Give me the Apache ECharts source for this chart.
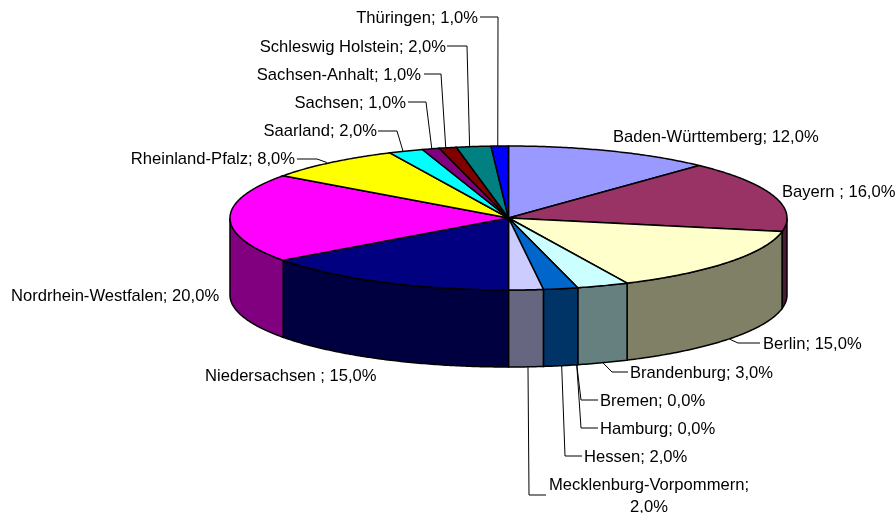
<!DOCTYPE html>
<html>
<head>
<meta charset="utf-8">
<style>
  html, body { margin: 0; padding: 0; background: #fff; }
  #chart { width: 895px; height: 513px; }
</style>
<script src="https://cdn.jsdelivr.net/npm/echarts@6/dist/echarts.min.js"></script>
</head>
<body>
<div id="chart"></div>
<script>
const states = ["Baden-Württemberg", "Bayern ", "Berlin", "Brandenburg", "Bremen", "Hamburg", "Hessen",
  "Mecklenburg-Vorpommern", "Niedersachsen ", "Nordrhein-Westfalen", "Rheinland-Pfalz", "Saarland",
  "Sachsen", "Sachsen-Anhalt", "Schleswig Holstein", "Thüringen"];
const shares = [12, 16, 15, 3, 0, 0, 2, 2, 15, 20, 8, 2, 1, 1, 2, 1];
const topColors = ["#9999ff", "#993366", "#ffffcc", "#ccffff", "#660066", "#ff8080", "#0066cc", "#ccccff",
  "#000080", "#ff00ff", "#ffff00", "#00ffff", "#800080", "#800000", "#008080", "#0000ff"];
const sideColors = ["#4d4d80", "#4d1933", "#808066", "#668080", "#330033", "#804040", "#003366", "#666680",
  "#000040", "#800080", "#808000", "#008080", "#400040", "#400000", "#004040", "#000080"];

// label anchor: [x, y, align]
const labelAnchors = [[613, 137, "left"], [782, 192, "left"], [763, 344, "left"], [630, 373, "left"],
  [600, 401, "left"], [600, 429, "left"], [584, 457, "left"], [649, 496, "center"], [205, 376, "left"],
  [11, 296, "left"], [295, 159, "right"], [377, 131, "right"], [406, 103, "right"], [421, 75, "right"],
  [446, 47, "right"], [478, 18, "right"]];
// leader lines: bend points, then the end on the pie rim nudged sideways
const leaderBends = [null, null, [[760, 343], [738, 343]], [[628, 372], [612, 372]], [[598, 400], [581, 400]],
  [[598, 428], [581, 428]], [[582, 456], [565, 456]], [[546, 495], [529, 495]], null, null,
  [[297, 159], [317, 159]], [[378, 131], [397, 131]], [[408, 102], [426, 102]], [[424, 74], [441, 74]],
  [[447, 46], [467, 46]], [[480, 17], [498, 17]]];
const leaderNudge = [0, 0, 1, 0, -1, -1, 1, 2, 0, 0, -4, -3, 1, -2, -4, -2];

const cx = 508.5, cy = 218, rx = 278.5, ry = 72, depth = 77;
const total = shares.reduce((a, b) => a + b, 0);
const starts = [];
shares.reduce((acc, v, i) => { starts[i] = acc; return acc + v; }, 0);

function toAngle(share) { return share / total * 2 * Math.PI; }
function rimPoint(a, drop) {
  return [cx + rx * Math.sin(a), cy - ry * Math.cos(a) + (drop || 0)];
}
function arcPoints(a0, a1, drop) {
  const n = Math.max(2, Math.ceil((a1 - a0) / 0.01));
  const pts = [];
  for (let i = 0; i <= n; i++) pts.push(rimPoint(a0 + (a1 - a0) * i / n, drop));
  return pts;
}

function renderSide(params, api) {
  const i = params.dataIndex;
  const a0 = Math.max(toAngle(starts[i]), Math.PI / 2);
  const a1 = Math.min(toAngle(starts[i] + shares[i]), Math.PI * 1.5);
  if (shares[i] === 0 || a1 <= a0) return null;
  const points = arcPoints(a0, a1, 0).concat(arcPoints(a0, a1, depth).reverse());
  return { type: "polygon", silent: true, shape: { points },
    style: { fill: sideColors[i], stroke: "#000", lineWidth: 1.5 } };
}

function renderTop(params, api) {
  const i = params.dataIndex;
  if (shares[i] === 0) return null;
  const points = [[cx, cy]].concat(arcPoints(toAngle(starts[i]), toAngle(starts[i] + shares[i]), 0));
  return { type: "polygon", silent: true, shape: { points },
    style: { fill: topColors[i], stroke: "#000", lineWidth: 1.5 } };
}

function renderLabel(params, api) {
  const i = params.dataIndex;
  const [x, y, align] = labelAnchors[i];
  const pct = shares[i].toFixed(1).replace(".", ",") + "%";
  const multiLine = states[i].length > 20 && align === "center";
  const text = states[i] + ";" + (multiLine ? "\n" : " ") + pct;
  const children = [{ type: "text", silent: true, x, y,
    style: { text, fill: "#000", align, verticalAlign: "middle", lineHeight: 22,
      font: "16.6px 'Liberation Sans', Arial, sans-serif" } }];
  if (leaderBends[i]) {
    const mid = toAngle(starts[i] + shares[i] / 2);
    const end = rimPoint(mid, Math.cos(mid) < 0 ? depth : 0);
    end[0] += leaderNudge[i];
    children.push({ type: "polyline", silent: true, shape: { points: leaderBends[i].concat([end]) },
      style: { fill: null, stroke: "#000", lineWidth: 1 } });
  }
  return { type: "group", children };
}

const chart = echarts.init(document.getElementById("chart"), null, { renderer: "canvas" });
chart.setOption({
  animation: false,
  backgroundColor: "#fff",
  tooltip: { show: false },
  series: [
    { type: "custom", name: "side", coordinateSystem: "none", silent: true, clip: false, data: shares, renderItem: renderSide },
    { type: "custom", name: "top", coordinateSystem: "none", silent: true, clip: false, data: shares, renderItem: renderTop },
    { type: "custom", name: "labels", coordinateSystem: "none", silent: true, clip: false, data: shares, renderItem: renderLabel }
  ]
});
</script>
</body>
</html>
